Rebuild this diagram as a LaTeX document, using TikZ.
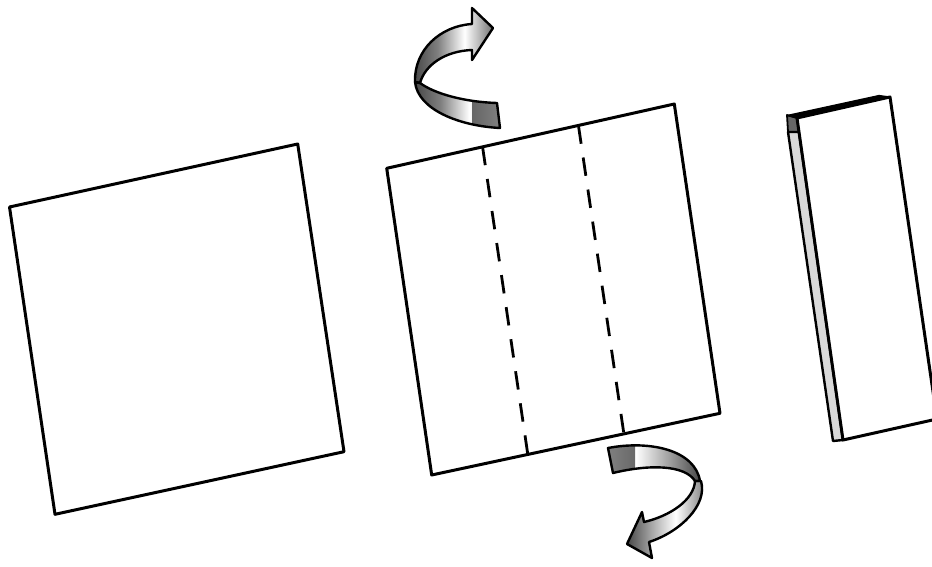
\documentclass[tikz,border=0pt]{standalone}
\usetikzlibrary{calc}
\colorlet{rdark}{black!72}
\colorlet{rmid}{black!55}
\pgfdeclarehorizontalshading{ribA}{100bp}{color(0bp)=(rdark);color(25bp)=(rdark);color(40bp)=(black!50);color(57bp)=(white);color(75bp)=(rmid);color(100bp)=(rmid)}
\pgfdeclarehorizontalshading{ribB}{100bp}{color(0bp)=(white);color(25bp)=(white);color(40bp)=(white);color(75bp)=(rdark);color(100bp)=(rdark)}
\pgfdeclarehorizontalshading{ribC}{100bp}{color(0bp)=(rdark);color(25bp)=(rdark);color(42bp)=(black!30);color(55bp)=(white);color(75bp)=(rmid);color(100bp)=(rmid)}
\begin{document}
\begin{tikzpicture}[x=1pt,y=-1pt,line join=round,
  edge/.style={line width=3pt},
  fold/.style={line width=2.8pt,dash pattern=on 18.5pt off 13.9pt},
  ribbon/.style={draw=black,line width=2.4pt}]
\clip (0,0) rectangle (932,567);
% first square
\coordinate (s1a) at (9.5,207);
\coordinate (s1b) at (297.7,144);
\coordinate (s1c) at (344,451.7);
\coordinate (s1d) at (55,514.3);
\draw[edge] (s1a)--(s1b)--(s1c)--(s1d)--cycle;
% second square with fold lines
\coordinate (s2a) at (386.7,168.3);
\coordinate (s2b) at (674.3,104);
\coordinate (s2c) at (720,413.3);
\coordinate (s2d) at (431.7,475);
\draw[edge] (s2a)--(s2b)--(s2c)--(s2d)--cycle;
\draw[fold] ($(s2a)!1/3!(s2b)$) -- ($(s2d)!1/3!(s2c)$);
\draw[fold] ($(s2a)!2/3!(s2b)$) -- ($(s2d)!2/3!(s2c)$);
% folded result
\filldraw[fill=black!60,line width=1.8pt] (787,115) -- (797,118) -- (799,132) -- (788,132) -- cycle;
\filldraw[fill=black!15,line width=2.4pt] (788,132) -- (799,132) -- (843,440) -- (833,441) -- cycle;
\filldraw[fill=white,edge] (797,118) -- (890,97) -- (937,419) -- (843,440) -- cycle;
\filldraw[line width=1.2pt] (787,115.5) -- (879,95.5) -- (890,97) -- (797,118) -- cycle;
% top arrow: upper band with head
\shade[shading=ribA] (472,24) .. controls (440,26) and (414,50) .. (415,82) -- (420,83)
  .. controls (425,65) and (445,51) .. (472,50) -- (472,60) -- (493,28) -- (472,8) -- cycle;
% top arrow: lower band
\shade[shading=ribA] (415,82) .. controls (418,110) and (460,126) .. (500,128) -- (497,103)
  .. controls (465,102) and (435,94) .. (420,83) -- cycle;
\begin{scope}
\clip (472,90) rectangle (510,140);
\shade[left color=black!80,right color=black!50] (415,82) .. controls (418,110) and (460,126) .. (500,128) -- (497,103)
  .. controls (465,102) and (435,94) .. (420,83) -- cycle;
\end{scope}
\draw[ribbon] (472,24) .. controls (440,26) and (414,50) .. (415,82) -- (420,83)
  .. controls (425,65) and (445,51) .. (472,50) -- (472,60) -- (493,28) -- (472,8) -- cycle;
\draw[ribbon] (415,82) .. controls (418,110) and (460,126) .. (500,128) -- (497,103)
  .. controls (465,102) and (435,94) .. (420,83) -- cycle;
% bottom arrow: upper band with flat end
\shade[shading=ribB] (608,448) .. controls (650,440) and (695,450) .. (700,481) -- (695,481)
  .. controls (685,465) and (650,464) .. (613,473) -- cycle;
\begin{scope}
\clip (600,440) rectangle (635,480);
\shade[left color=black!50,right color=black!80] (608,448) .. controls (650,440) and (695,450) .. (700,481) -- (695,481)
  .. controls (685,465) and (650,464) .. (613,473) -- cycle;
\end{scope}
% bottom arrow: lower band with head
\shade[shading=ribC] (701,481) .. controls (708,505) and (680,532) .. (649,542) -- (652,558) -- (627,544)
  -- (642,512) -- (644,522) .. controls (670,516) and (694,500) .. (695,481) -- cycle;
\draw[ribbon] (608,448) .. controls (650,440) and (695,450) .. (700,481) -- (695,481)
  .. controls (685,465) and (650,464) .. (613,473) -- cycle;
\draw[ribbon] (701,481) .. controls (708,505) and (680,532) .. (649,542) -- (652,558) -- (627,544)
  -- (642,512) -- (644,522) .. controls (670,516) and (694,500) .. (695,481) -- cycle;
\end{tikzpicture}
\end{document}
